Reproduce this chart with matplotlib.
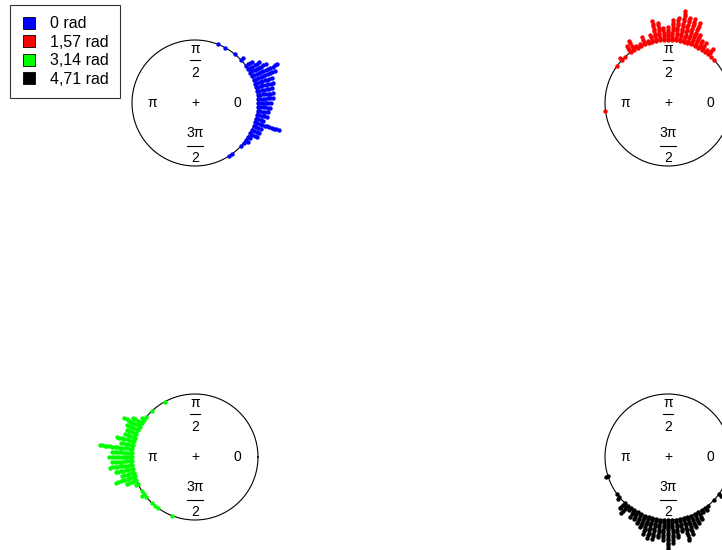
import numpy as np
import matplotlib
matplotlib.use('Agg')
import matplotlib.pyplot as plt
from matplotlib.lines import Line2D

plt.rcParams['font.family'] = ['Liberation Sans', 'DejaVu Sans']

# bin angles (degrees) and number of stacked points in each bin
blue_deg = [68.4, 61.2, 50.4, 43.2, 36, 32.4, 28.8, 25.2, 21.6, 18, 14.4, 10.8, 7.2, 3.6, 0,
            -3.6, -7.2, -10.8, -14.4, -18, -21.6, -25.2, -28.8, -32.4, -36, -39.6, -43.2, -54, -57.6]
blue_cnt = [1, 1, 1, 2, 4, 6, 8, 12, 10, 8, 8, 7, 7, 7, 6,
            6, 5, 5, 4, 11, 4, 4, 4, 2, 2, 1, 1, 1, 1]

red_deg = [187.2, 144, 136.8, 133.2, 126, 122.4, 118.8, 115.2, 111.6, 108, 104.4, 100.8, 97.2,
           93.6, 90, 86.4, 82.8, 79.2, 75.6, 72, 68.4, 64.8, 61.2, 57.6, 54, 50.4, 46.8, 43.2]
red_cnt = [1, 1, 2, 1, 4, 5, 2, 2, 4, 2, 4, 9, 8,
           6, 6, 9, 10, 13, 11, 11, 10, 6, 4, 4, 2, 4, 1, 1]

green_deg = [118.8, 133.2, 140.4, 144, 147.6, 151.2, 154.8, 158.4, 162, 165.6, 169.2, 172.8, 176.4,
             180, 183.6, 187.2, 190.8, 194.4, 198, 201.6, 205.2, 212.4, 216, 219.6, 226.8, 230.4,
             234, 248.4]
green_cnt = [1, 1, 1, 2, 5, 8, 6, 5, 5, 8, 6, 14, 9,
             10, 9, 10, 8, 6, 9, 5, 2, 1, 2, 1, 1, 1,
             1, 1]

black_deg = [198, 216, 219.6, 226.8, 230.4, 234, 237.6, 241.2, 244.8, 248.4, 252, 255.6, 259.2,
             262.8, 266.4, 270, 273.6, 277.2, 280.8, 284.4, 288, 291.6, 295.2, 298.8, 302.4, 306,
             309.6, 316.8, 324]
black_cnt = [2, 1, 2, 4, 5, 2, 4, 4, 5, 6, 8, 9, 9,
             8, 9, 14, 10, 8, 6, 10, 8, 6, 5, 4, 2, 2,
             1, 1, 4]

legend_labels = ['0 rad', '1,57 rad', '3,14 rad', '4,71 rad']
colors = ['#0000FF', '#FF0000', '#00FF00', '#000000']

W, H = 722, 550
R = 63.0          # circle radius in pixels
sep = 0.04        # radial step between stacked points
half = 1.9        # axes half-size in circle radii


def circ_plot(fig, cx, cy, degs, cnts, color):
    # axes centred on the circle, pixel centre (cx, cy) from the top left
    s = half * R
    ax = fig.add_axes([(cx - s) / W, (H - cy - s) / H, 2 * s / W, 2 * s / H])
    ax.set_xlim(-half, half)
    ax.set_ylim(-half, half)
    ax.set_aspect('equal')
    ax.axis('off')
    t = np.linspace(0, 2 * np.pi, 400)
    ax.plot(np.cos(t), np.sin(t), color='black', lw=0.8, clip_on=False)
    xs, ys = [], []
    for d, n in zip(degs, cnts):
        a = np.deg2rad(d)
        for k in range(n):
            r = 1 + k * sep
            xs.append(r * np.cos(a))
            ys.append(r * np.sin(a))
    ax.scatter(xs, ys, s=10, color=color, linewidths=0, clip_on=False, zorder=3)
    fs = 10
    ax.text(0, 0.86, 'π', ha='center', va='center', fontsize=fs)
    ax.plot([-0.08, 0.08], [0.68, 0.68], color='black', lw=0.8)
    ax.text(0, 0.48, '2', ha='center', va='center', fontsize=fs)
    ax.text(0, -0.47, '3π', ha='center', va='center', fontsize=fs)
    ax.plot([-0.13, 0.13], [-0.68, -0.68], color='black', lw=0.8)
    ax.text(0, -0.87, '2', ha='center', va='center', fontsize=fs)
    ax.text(-0.68, 0, 'π', ha='center', va='center', fontsize=fs)
    ax.text(0.67, 0, '0', ha='center', va='center', fontsize=fs)
    ax.text(0, 0, '+', ha='center', va='center', fontsize=fs)
    return ax


fig = plt.figure(figsize=(W / 100, H / 100), dpi=100)
circ_plot(fig, 195, 103, blue_deg, blue_cnt, colors[0])
circ_plot(fig, 668, 103, red_deg, red_cnt, colors[1])
circ_plot(fig, 195, 457, green_deg, green_cnt, colors[2])
circ_plot(fig, 668, 457, black_deg, black_cnt, colors[3])

handles = [Line2D([], [], marker='s', linestyle='none', markersize=8,
                  markerfacecolor=c, markeredgecolor='black', markeredgewidth=0.6)
           for c in colors]
leg = fig.legend(handles, legend_labels, loc='upper left', bbox_to_anchor=(10 / W, 1 - 5 / H),
                 frameon=True, fancybox=False, edgecolor='black', fontsize=11.5,
                 handlelength=1.0, handletextpad=0.8, labelspacing=0.22, borderpad=0.7,
                 borderaxespad=0)
leg.get_frame().set_linewidth(0.8)

fig.savefig('out.png', dpi=100)
